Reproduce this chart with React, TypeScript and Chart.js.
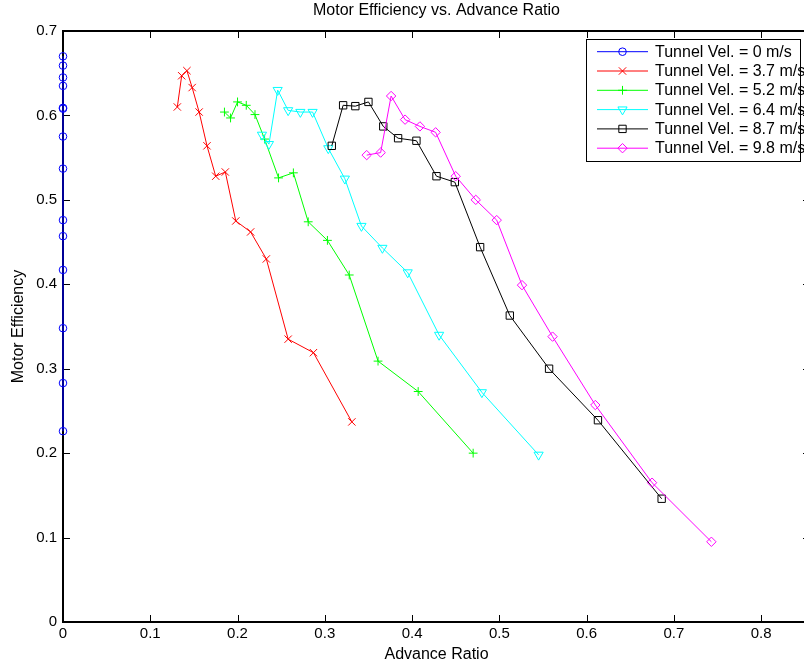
import React, { useEffect, useRef } from 'react';
import { Chart, registerables } from 'chart.js';
import { drawPoint } from 'chart.js/helpers';

Chart.register(...registerables);

// ---- data ----
const seriesLabels = [
  'Tunnel Vel. = 0 m/s',
  'Tunnel Vel. = 3.7 m/s',
  'Tunnel Vel. = 5.2 m/s',
  'Tunnel Vel. = 6.4 m/s',
  'Tunnel Vel. = 8.7 m/s',
  'Tunnel Vel. = 9.8 m/s',
];

const v00J = [0, 0, 0, 0, 0, 0, 0, 0, 0, 0, 0, 0, 0, 0];
const v00Eff = [0.670, 0.659, 0.645, 0.635, 0.609, 0.608, 0.575, 0.537, 0.476, 0.457, 0.417, 0.348, 0.283, 0.226];

const v37J = [0.131, 0.136, 0.142, 0.148, 0.156, 0.165, 0.175, 0.186, 0.198, 0.215, 0.233, 0.258, 0.287, 0.331];
const v37Eff = [0.610, 0.647, 0.653, 0.633, 0.604, 0.564, 0.528, 0.533, 0.475, 0.462, 0.430, 0.335, 0.319, 0.237];

const v52J = [0.185, 0.192, 0.200, 0.210, 0.220, 0.231, 0.247, 0.264, 0.281, 0.303, 0.328, 0.361, 0.407, 0.470];
const v52Eff = [0.604, 0.597, 0.616, 0.612, 0.601, 0.572, 0.526, 0.532, 0.474, 0.452, 0.411, 0.309, 0.273, 0.200];

const v64J = [0.228, 0.236, 0.246, 0.258, 0.272, 0.286, 0.304, 0.323, 0.342, 0.366, 0.395, 0.431, 0.480, 0.545];
const v64Eff = [0.577, 0.566, 0.630, 0.606, 0.604, 0.604, 0.561, 0.525, 0.469, 0.443, 0.414, 0.340, 0.272, 0.198];

const v87J = [0.308, 0.321, 0.335, 0.350, 0.367, 0.384, 0.405, 0.428, 0.449, 0.478, 0.512, 0.557, 0.613, 0.686];
const v87Eff = [0.564, 0.612, 0.611, 0.616, 0.587, 0.573, 0.570, 0.528, 0.521, 0.444, 0.363, 0.300, 0.239, 0.146];

const v98J = [0.348, 0.364, 0.376, 0.392, 0.409, 0.427, 0.450, 0.473, 0.497, 0.526, 0.561, 0.610, 0.675, 0.743];
const v98Eff = [0.553, 0.556, 0.623, 0.595, 0.587, 0.580, 0.528, 0.500, 0.476, 0.399, 0.338, 0.257, 0.165, 0.095];

const xTicks = [0, 0.1, 0.2, 0.3, 0.4, 0.5, 0.6, 0.7, 0.8];
const yTicks = [0, 0.1, 0.2, 0.3, 0.4, 0.5, 0.6, 0.7];

// ---- styles ----
const colors = ['#0000ff', '#ff0000', '#00ff00', '#00ffff', '#000000', '#ff00ff'];
const markers = ['circle', 'crossRot', 'cross', 'triangle', 'rect', 'rectRot'];
const markerRot = [0, 0, 0, 180, 0, 0];
const markerRad = [3.8, 5.2, 4.4, 5.3, 5.2, 4.7];

const FONT = "'Liberation Sans', Arial, Helvetica, sans-serif";

const toPts = (xs: number[], ys: number[]) => xs.map((x, i) => ({ x, y: ys[i] }));

const axesPlugin = {
  id: 'matlabAxes',
  beforeDatasetsDraw(chart: any) {
    const { ctx, chartArea } = chart;
    const { left, right, top, bottom } = chartArea;
    const xs = chart.scales.x;
    const ys = chart.scales.y;
    ctx.save();
    ctx.strokeStyle = '#000';
    ctx.lineWidth = 1;
    for (const v of xTicks) {
      const px = Math.round(xs.getPixelForValue(v)) + 0.5;
      ctx.beginPath();
      ctx.moveTo(px, bottom);
      ctx.lineTo(px, bottom - 7);
      ctx.moveTo(px, top);
      ctx.lineTo(px, top + 7);
      ctx.stroke();
    }
    for (const v of yTicks) {
      const py = Math.round(ys.getPixelForValue(v)) + 0.5;
      ctx.beginPath();
      ctx.moveTo(left, py);
      ctx.lineTo(left + 7, py);
      ctx.moveTo(right, py);
      ctx.lineTo(right - 7, py);
      ctx.stroke();
    }
    ctx.lineWidth = 2;
    ctx.strokeRect(left, top, right - left, bottom - top);
    ctx.restore();
  },
};

const legendPlugin = {
  id: 'matlabLegend',
  afterDatasetsDraw(chart: any) {
    const { ctx } = chart;
    const bx = 586, by = 39, bw = 214, bh = 122;
    const rowY0 = 51.7, rowH = 19.3;
    ctx.save();
    ctx.fillStyle = '#fff';
    ctx.fillRect(bx, by, bw, bh);
    seriesLabels.forEach((lab, i) => {
      const y = rowY0 + i * rowH;
      ctx.strokeStyle = colors[i];
      ctx.lineWidth = 1;
      ctx.beginPath();
      ctx.moveTo(597, y);
      ctx.lineTo(648, y);
      ctx.stroke();
      ctx.fillStyle = 'rgba(0,0,0,0)';
      drawPoint(ctx, { pointStyle: markers[i], rotation: markerRot[i], radius: markerRad[i], borderWidth: 1 } as any, 622.5, y);
      ctx.fillStyle = '#000';
      ctx.font = `16px ${FONT}`;
      ctx.textBaseline = 'middle';
      ctx.textAlign = 'left';
      ctx.fillText(lab, 655, y + 0.5);
    });
    ctx.strokeStyle = '#000';
    ctx.lineWidth = 1;
    ctx.strokeRect(bx + 0.5, by + 0.5, bw, bh);
    ctx.restore();
  },
};

export default function App() {
  const ref = useRef<HTMLCanvasElement | null>(null);

  useEffect(() => {
    if (!ref.current) return;
    const xsArr = [v00J, v37J, v52J, v64J, v87J, v98J];
    const ysArr = [v00Eff, v37Eff, v52Eff, v64Eff, v87Eff, v98Eff];
    const datasets = seriesLabels.map((label, i) => ({
      label,
      data: toPts(xsArr[i], ysArr[i]),
      showLine: true,
      borderColor: i === 0 ? '#0000c8' : colors[i],
      borderWidth: i === 0 ? 1.5 : 1,
      pointStyle: markers[i],
      pointRotation: markerRot[i],
      pointRadius: markerRad[i],
      pointHoverRadius: markerRad[i],
      pointBorderColor: colors[i],
      pointBackgroundColor: 'rgba(0,0,0,0)',
      pointBorderWidth: 1,
      clip: false as any,
      order: 6 - i,
    }));

    const chart = new Chart(ref.current, {
      type: 'scatter',
      data: { datasets },
      plugins: [axesPlugin, legendPlugin],
      options: {
        animation: false,
        responsive: false,
        maintainAspectRatio: false,
        devicePixelRatio: 1,
        events: [],
        layout: { padding: 0 },
        font: { family: FONT, size: 14 } as any,
        color: '#000',
        plugins: {
          legend: { display: false },
          tooltip: { enabled: false },
          title: {
            display: true,
            text: 'Motor Efficiency vs. Advance Ratio',
            color: '#000',
            font: { family: FONT, size: 16, weight: 'normal' as any, lineHeight: 1.2 },
            padding: { top: 1.4, bottom: 10.4 },
          },
        },
        scales: {
          x: {
            type: 'linear',
            position: 'bottom',
            min: 0,
            max: 0.856,
            afterBuildTicks: (s: any) => {
              s.ticks = xTicks.map((v) => ({ value: v }));
            },
            afterFit: (s: any) => {
              s.height = 41;
            },
            grid: { display: false, drawTicks: false },
            border: { display: false },
            ticks: {
              color: '#000',
              padding: 3,
              font: { family: FONT, size: 15, lineHeight: 1.2 },
              maxRotation: 0,
              autoSkip: false,
              callback: (v: any) => (v === 0 ? '0' : Number(v).toFixed(1)),
            },
            title: {
              display: true,
              text: 'Advance Ratio',
              color: '#000',
              font: { family: FONT, size: 16, lineHeight: 1 },
              padding: { top: 0, bottom: 0 },
            },
          },
          y: {
            type: 'linear',
            position: 'left',
            min: 0,
            max: 0.7,
            afterBuildTicks: (s: any) => {
              s.ticks = yTicks.map((v) => ({ value: v }));
            },
            afterFit: (s: any) => {
              s.width = 63;
            },
            grid: { display: false, drawTicks: false },
            border: { display: false },
            ticks: {
              color: '#000',
              padding: 6,
              font: { family: FONT, size: 15 },
              autoSkip: false,
              callback: (v: any) => (v === 0 ? '0' : Number(v).toFixed(1)),
            },
            title: {
              display: true,
              text: 'Motor Efficiency',
              color: '#000',
              font: { family: FONT, size: 16, lineHeight: 1 },
              padding: { top: 10.5, bottom: 0 },
            },
          },
          yR: {
            type: 'linear',
            position: 'right',
            display: true,
            min: 0,
            max: 0.7,
            afterFit: (s: any) => {
              s.width = 63;
            },
            grid: { display: false, drawTicks: false },
            border: { display: false },
            ticks: { display: false },
          },
        },
      } as any,
    });
    return () => chart.destroy();
  }, []);

  return (
    <div
      style={{
        position: 'fixed',
        left: 0,
        top: 0,
        width: 804,
        height: 663,
        overflow: 'hidden',
        background: '#fff',
      }}
    >
      <canvas ref={ref} width={873} height={663} style={{ display: 'block', width: 873, height: 663 }} />
    </div>
  );
}
